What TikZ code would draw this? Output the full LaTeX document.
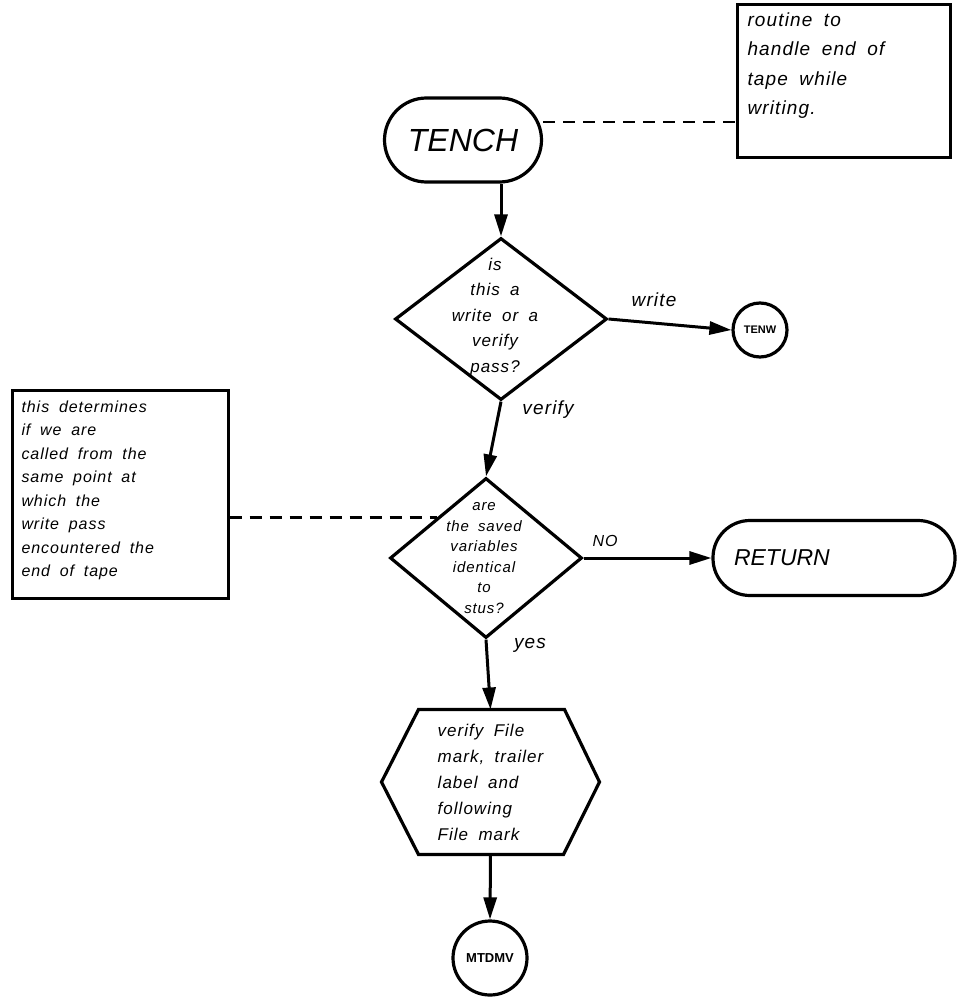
\documentclass[tikz,border=0pt]{standalone}
\usepackage{fontspec}
\setmainfont{Liberation Sans}
\newfontfamily\hand[LetterSpace=6,WordSpace=1.8]{Liberation Sans}
\usetikzlibrary{arrows.meta,shapes.geometric,calc}
\begin{document}
\begin{tikzpicture}[x=1pt,y=-1pt,line width=3pt,
  flow/.style={line width=3pt,-{Triangle[length=22pt,width=13pt]}},
  dashline/.style={line width=2.6pt,dash pattern=on 12pt off 8pt},
  note/.style={draw,line width=3pt,inner sep=0},
  txt/.style={font=\hand\itshape\fontsize{17}{25.5}\selectfont,align=center,inner sep=0},
  lbl/.style={font=\hand\itshape\fontsize{19}{20}\selectfont,inner sep=0},
  notetxt/.style={font=\hand\itshape\fontsize{16}{24}\selectfont,align=left,inner sep=0,anchor=north west},
  decision/.style={draw,diamond,inner sep=0,line width=3.2pt},
  term/.style={draw,line width=3.2pt},
  conn/.style={draw,circle,inner sep=0,line width=3.2pt,font=\bfseries\fontsize{11}{12}\selectfont}]
\useasboundingbox (0,0) rectangle (956,1003);

% top terminal
\node[term,rounded corners=42pt,minimum width=157pt,minimum height=84pt,
      font=\itshape\fontsize{32}{34}\selectfont] (tench) at (463,140) {TENCH};

% top-right note
\node[note,minimum width=213pt,minimum height=153pt] (rnote) at (843.5,81.5) {};
\node[notetxt,font=\hand\itshape\fontsize{19}{29.5}\selectfont] (rnotet) at (746,11)
  {routine to\\handle end of\\tape while\\writing.};
\draw[dashline] (tench.east) ++(0,-18) coordinate (td) -- (td -| rnote.west);

% first decision
\node[decision,minimum width=212pt,minimum height=162pt] (d1) at (501,319) {};
\node[txt] (d1t) at (495,317) {is\\this a\\write or a\\verify\\pass?};
\draw[flow] (tench.south -| d1.north) -- (d1.north);

\node[conn,minimum size=54pt] (tenw) at (760,330) {TENW};
\draw[flow] (d1.east) -- (tenw.west);
\node[lbl] (lwrite) at (654,300) {write};
\node[lbl] (lverify) at (548,410) {verify};

% second decision
\node[decision,minimum width=192pt,minimum height=160pt] (d2) at (486,558) {};
\node[txt,font=\hand\itshape\fontsize{15}{20.5}\selectfont] (d2t) at (484,558)
  {are\\the saved\\variables\\identical\\to\\stus?};
\draw[flow] (d1.south) -- (d2.north);

% left note
\node[note,minimum width=216pt,minimum height=208pt] (lnote) at (120,494) {};
\node[notetxt,font=\hand\itshape\fontsize{16}{23.5}\selectfont] (lnotet) at (20,399)
  {this determines\\if we are\\called from the\\same point at\\which the\\write pass\\encountered the\\end of tape};
\draw[dashline] (lnote.east |- d2.north west) -- (d2.north west);

% RETURN
\node[term,rounded corners=37pt,minimum height=75pt,text width=200pt,inner xsep=21pt,
      align=left,font=\itshape\fontsize{23}{24}\selectfont] (ret) at (834,558) {RETURN};
\draw[flow] (d2.east) -- (ret.west);
\node[lbl,font=\hand\itshape\fontsize{16}{16}\selectfont] (lno) at (605,541) {NO};
\node[lbl] (lyes) at (530,645) {yes};

% hexagon
\node[minimum width=215pt,minimum height=142pt,inner sep=0,align=left,
      font=\hand\itshape\fontsize{17}{26}\selectfont] (hex) at (490.5,782)
  {verify File\\mark, trailer\\label and\\following\\File mark};
\draw[line width=3.2pt] (hex.west) -- ($(hex.north west)+(37,0)$) -- ($(hex.north east)+(-35,0)$)
  -- (hex.east) -- ($(hex.south east)+(-36,0)$) -- ($(hex.south west)+(37,0)$) -- cycle;
\draw[flow] (d2.south) -- (hex.north);

\node[conn,minimum size=74pt,font=\bfseries\fontsize{13}{14}\selectfont] (mt) at (490,958) {MTDMV};
\draw[flow] (hex.south) -- (mt.north);
\end{tikzpicture}
\end{document}
